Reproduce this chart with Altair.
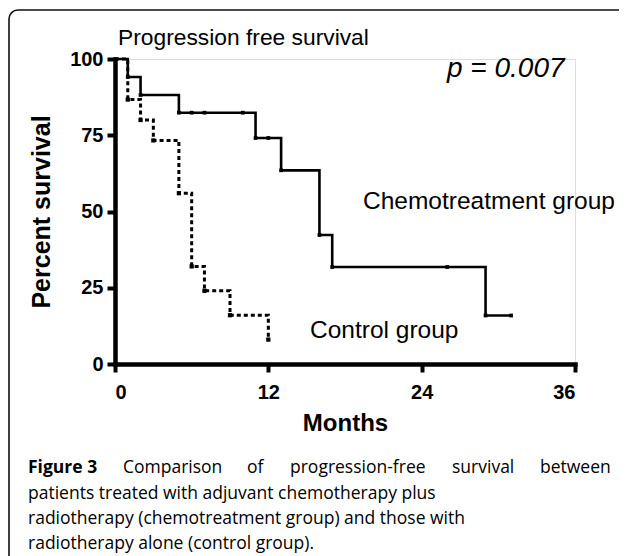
import altair as alt
import pandas as pd

# ---------------- data ----------------
chemo_months = [0, 1, 2, 5, 11, 13, 16, 17, 29, 31]
chemo_surv = [100, 94.1, 88.2, 82.4, 74.1, 63.5, 42.3, 31.8, 15.9, 15.9]
chemo_event_months = [1, 2, 5, 11, 13, 16, 17, 29]
chemo_event_surv = [94.1, 88.2, 82.4, 74.1, 63.5, 42.3, 31.8, 15.9]
chemo_censor_months = [6, 7, 10, 12, 26, 31]
chemo_censor_surv = [82.4, 82.4, 82.4, 74.1, 31.8, 15.9]

control_months = [0, 1, 2, 3, 5, 6, 7, 9, 12]
control_surv = [100, 86.7, 80.0, 73.3, 56.0, 32.0, 24.0, 16.0, 8.0]
control_event_months = [1, 2, 3, 5, 6, 7, 9, 12]
control_event_surv = [86.7, 80.0, 73.3, 56.0, 32.0, 24.0, 16.0, 8.0]

x_ticks = [0, 12, 24, 36]
y_ticks = [0, 25, 50, 75, 100]

title_text = "Progression free survival"
p_text = "p = 0.007"
chemo_label = "Chemotreatment group"
control_label = "Control group"
x_title = "Months"
y_title = "Percent survival"
caption_bold = "Figure 3"
caption_line1_words = ["Comparison", "of", "progression-free", "survival", "between"]
caption_lines = [
    "patients treated with adjuvant chemotherapy plus",
    "radiotherapy (chemotreatment group) and those with",
    "radiotherapy alone (control group).",
]

# ---------------- layout ----------------
W, H = 460, 305
FONT = "Liberation Sans"
CAP_FONT = "Open Sans"
CAP_SIZE = 17.5
CAP_X = -87            # caption left edge, relative to plot origin
# justified first caption line: left x of each word (plot coords)
line1_x = [8, 132, 175, 337, 425]

chemo_df = pd.DataFrame({"m": chemo_months, "s": chemo_surv})
control_df = pd.DataFrame({"m": control_months, "s": control_surv})
chemo_ev = pd.DataFrame({"m": chemo_event_months + chemo_censor_months,
                         "s": chemo_event_surv + chemo_censor_surv})
control_ev = pd.DataFrame({"m": control_event_months, "s": control_event_surv})

xscale = alt.Scale(domain=[0, 36], nice=False, zero=True)
yscale = alt.Scale(domain=[0, 100], nice=False)

xax = alt.Axis(values=x_ticks, title=x_title, grid=False, domainWidth=4.5, tickWidth=4,
               tickSize=8, domainCap="square", domainColor="black", tickColor="black",
               labelFont=FONT, labelFontWeight="bold", labelFontSize=20, labelColor="black",
               labelPadding=10, titleFont=FONT, titleFontWeight="bold", titleFontSize=24,
               titleColor="black", titlePadding=9)
yax = alt.Axis(values=y_ticks, title=y_title, grid=False, domainWidth=4.5, tickWidth=4,
               tickSize=8, domainCap="square", domainColor="black", tickColor="black",
               labelFont=FONT, labelFontWeight="bold", labelFontSize=20, labelColor="black",
               labelPadding=4, titleFont=FONT, titleFontWeight="bold", titleFontSize=25,
               titleColor="black", titlePadding=15)

chemo_line = alt.Chart(chemo_df).mark_line(
    interpolate="step-after", color="black", strokeWidth=2.6
).encode(x=alt.X("m:Q", scale=xscale, axis=xax), y=alt.Y("s:Q", scale=yscale, axis=yax))

control_line = alt.Chart(control_df).mark_line(
    interpolate="step-after", color="black", strokeWidth=3, strokeDash=[4, 3]
).encode(x=alt.X("m:Q", scale=xscale), y=alt.Y("s:Q", scale=yscale))

chemo_pts = alt.Chart(chemo_ev).mark_point(
    shape="square", filled=True, color="black", size=14, opacity=1
).encode(x=alt.X("m:Q", scale=xscale), y=alt.Y("s:Q", scale=yscale))

control_pts = alt.Chart(control_ev).mark_point(
    shape="square", filled=True, color="black", size=18, opacity=1
).encode(x=alt.X("m:Q", scale=xscale), y=alt.Y("s:Q", scale=yscale))

one = alt.Data(values=[{"k": 1}])

def label(txt, x, y, size, weight="normal", style="normal", font=FONT):
    return alt.Chart(one).mark_text(
        text=txt, align="left", baseline="alphabetic", font=font, fontSize=size,
        fontWeight=weight, fontStyle=style, color="black"
    ).encode(x=alt.value(x), y=alt.value(y))

texts = [
    label(title_text, 3, -14, 22.8),
    label(p_text, 332, 18, 28, style="italic"),
    label(chemo_label, 248, 150, 24.5),
    label(control_label, 195, 279, 24.5),
    label(caption_bold, CAP_X, 414, CAP_SIZE, weight="bold", font=CAP_FONT),
]
for w, xx in zip(caption_line1_words, line1_x):
    texts.append(label(w, xx, 414, CAP_SIZE, font=CAP_FONT))
for i, line in enumerate(caption_lines):
    texts.append(label(line, CAP_X, 439.5 + 25.2 * i, CAP_SIZE, font=CAP_FONT))

frame = alt.Chart(one).mark_rect(
    fill="transparent", stroke="#111", strokeWidth=1.6, cornerRadius=9
).encode(x=alt.value(-106), y=alt.value(-49), x2=alt.value(540), y2=alt.value(560))

chart = alt.layer(
    frame, chemo_line, control_line, chemo_pts, control_pts, *texts
).properties(
    width=W, height=H,
    autosize=alt.AutoSizeParams(type="none"),
    padding={"left": 107, "top": 51, "right": 44, "bottom": 192},
).configure_view(stroke=None).configure(background="white")

chart.save("out.html", embed_options={"renderer": "svg", "actions": False})
